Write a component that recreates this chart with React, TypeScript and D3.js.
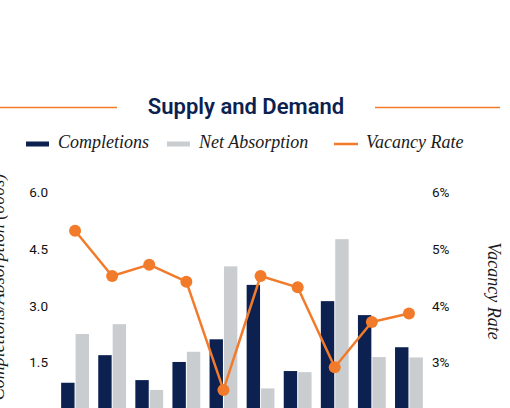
import { useRef, useEffect } from 'react';
import * as d3 from 'd3';

const periods = ['P1', 'P2', 'P3', 'P4', 'P5', 'P6', 'P7', 'P8', 'P9', 'P10'];
const completions = [0.97, 1.7, 1.04, 1.52, 2.12, 3.56, 1.28, 3.13, 2.76, 1.91];
const netAbsorption = [2.26, 2.52, 0.78, 1.79, 4.05, 0.82, 1.25, 4.77, 1.65, 1.64];
const vacancyRate = [5.33, 4.53, 4.73, 4.43, 2.52, 4.53, 4.33, 2.92, 3.72, 3.87];
const leftTicks = [1.5, 3.0, 4.5, 6.0];
const rightTicks = [3, 4, 5, 6];

const NAVY = '#0c2150';
const GRAY = '#c9cdd0';
const ORANGE = '#f27b2b';
const SANS = 'Roboto, "Noto Sans", sans-serif';
const SERIF = '"Liberation Serif", serif';

const App = () => {
  const svgRef = useRef<SVGSVGElement>(null);

  useEffect(() => {
    const svg = d3.select(svgRef.current);
    svg.selectAll('*').remove();

    const x = d3.scaleBand<string>()
      .domain(periods)
      .range([56.5, 427.5])
      .paddingInner(0.25)
      .paddingOuter(0.125);
    const sub = d3.scaleBand<string>()
      .domain(['c', 'a'])
      .range([0, x.bandwidth()])
      .paddingInner(0.07);
    const yL = d3.scaleLinear().domain([0, 6]).range([419.4, 192.7]);
    const yR = d3.scaleLinear().domain([2, 6]).range([419.4, 192.7]);

    // title with side rules
    svg.append('line').attr('x1', 0).attr('x2', 117).attr('y1', 107.5).attr('y2', 107.5)
      .attr('stroke', ORANGE).attr('stroke-width', 1.3);
    svg.append('line').attr('x1', 375).attr('x2', 500).attr('y1', 107.5).attr('y2', 107.5)
      .attr('stroke', ORANGE).attr('stroke-width', 1.3);
    svg.append('text').attr('x', 246).attr('y', 114).attr('text-anchor', 'middle')
      .attr('font-family', SANS).attr('font-weight', 600).attr('font-size', 22)
      .attr('fill', NAVY).text('Supply and Demand');

    // legend
    const legend = [
      { label: 'Completions', kind: 'bar', color: NAVY, x: 26 },
      { label: 'Net Absorption', kind: 'bar', color: GRAY, x: 167 },
      { label: 'Vacancy Rate', kind: 'line', color: ORANGE, x: 334 },
    ];
    legend.forEach(l => {
      if (l.kind === 'bar') {
        svg.append('rect').attr('x', l.x).attr('y', 141.5).attr('width', 23).attr('height', 5)
          .attr('fill', l.color);
      } else {
        svg.append('line').attr('x1', l.x).attr('x2', l.x + 24).attr('y1', 144).attr('y2', 144)
          .attr('stroke', l.color).attr('stroke-width', 2.5);
      }
      svg.append('text').attr('x', l.x + 32).attr('y', 148)
        .attr('font-family', SERIF).attr('font-style', 'italic').attr('font-size', 18)
        .attr('fill', '#1a1a1a').text(l.label);
    });

    // axes labels
    svg.append('g').selectAll('text').data(leftTicks).enter().append('text')
      .attr('x', 48).attr('y', d => yL(d)).attr('dy', '0.35em').attr('text-anchor', 'end')
      .attr('font-family', SANS).attr('font-size', 13.5).attr('fill', '#111')
      .text(d => d3.format('.1f')(d));
    svg.append('g').selectAll('text').data(rightTicks).enter().append('text')
      .attr('x', 432).attr('y', d => yR(d)).attr('dy', '0.35em').attr('text-anchor', 'start')
      .attr('font-family', SANS).attr('font-size', 13.5).attr('fill', '#111')
      .text(d => `${d}%`);

    svg.append('text').attr('transform', 'translate(4,287) rotate(-90)')
      .attr('text-anchor', 'middle').attr('font-family', SERIF).attr('font-style', 'italic')
      .attr('font-size', 18).attr('fill', '#1a1a1a').text('Completions/Absorption (000s)');
    svg.append('text').attr('transform', 'translate(488,291) rotate(90)')
      .attr('text-anchor', 'middle').attr('font-family', SERIF).attr('font-style', 'italic')
      .attr('font-size', 18).attr('fill', '#1a1a1a').text('Vacancy Rate');

    // bars
    const g = svg.append('g');
    g.selectAll('rect.c').data(periods).enter().append('rect')
      .attr('x', (d) => (x(d) ?? 0) + (sub('c') ?? 0))
      .attr('width', sub.bandwidth())
      .attr('y', (_, i) => yL(completions[i]))
      .attr('height', (_, i) => yL(0) - yL(completions[i]))
      .attr('fill', NAVY);
    g.selectAll('rect.a').data(periods).enter().append('rect')
      .attr('x', (d) => (x(d) ?? 0) + (sub('a') ?? 0))
      .attr('width', sub.bandwidth())
      .attr('y', (_, i) => yL(netAbsorption[i]))
      .attr('height', (_, i) => yL(0) - yL(netAbsorption[i]))
      .attr('fill', GRAY);

    // vacancy line
    const cx = (i: number) => (x(periods[i]) ?? 0) + x.bandwidth() / 2;
    const line = d3.line<number>().x((_, i) => cx(i)).y(d => yR(d));
    svg.append('path').datum(vacancyRate).attr('d', line).attr('fill', 'none')
      .attr('stroke', ORANGE).attr('stroke-width', 2.5).attr('stroke-linejoin', 'round');
    svg.append('g').selectAll('circle').data(vacancyRate).enter().append('circle')
      .attr('cx', (_, i) => cx(i)).attr('cy', d => yR(d)).attr('r', 6)
      .attr('fill', ORANGE);
  }, []);

  return (
    <svg ref={svgRef} width={510} height={408}
      style={{ position: 'fixed', left: 0, top: 0, background: '#fff' }}></svg>
  );
};

export default App;
